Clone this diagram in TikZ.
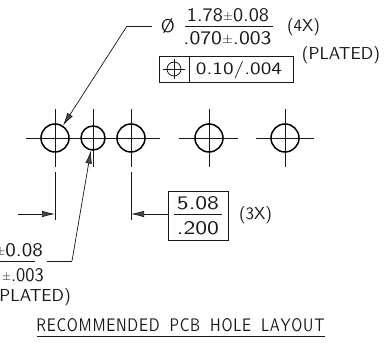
\documentclass[tikz,border=0pt]{standalone}
\usetikzlibrary{arrows.meta}
\usepackage{graphicx}
\definecolor{ink}{gray}{0.1}
\newcommand{\cad}[3]{\resizebox{#1pt}{#2pt}{\sffamily #3}}
\newcommand{\pmk}{\raisebox{0.4pt}{\scalebox{0.65}{±}}}
\tikzset{
  thinline/.style={draw=ink,line width=0.7pt},
  hole/.style={circle,draw=black,line width=1.5pt,inner sep=0pt,minimum size=28pt},
  smallhole/.style={hole,minimum size=24pt},
  lead/.style={thinline,-{Latex[length=13pt,width=6.5pt,fill=ink!80]}},
  txt/.style={inner sep=0pt,text=ink,anchor=center},
  txtr/.style={inner sep=0pt,text=ink,anchor=east},
  framebox/.style={thinline,inner sep=0pt}
}
\begin{document}
\begin{tikzpicture}[x=1pt,y=-1pt]
\useasboundingbox (0,0) rectangle (392,344);
\clip (0,0) rectangle (392,344);
% centre lines
\foreach \x in {55,93,131,209,285}{\draw[thinline] (\x,109) -- (\x,167);}
\draw[thinline] (26,138) -- (160,138);
\draw[thinline] (179,138) -- (238,138);
\draw[thinline] (256,138) -- (314,138);
% holes
\node[hole] (h1) at (55,138) {};
\node[smallhole] (h2) at (93,138) {};
\node[hole] (h3) at (131,138) {};
\node[hole] (h4) at (209,138) {};
\node[hole] (h5) at (285,138) {};
% top callout
\node[txt] (dia) at (168,26) {\cad{14}{14}{Ø}};
\node[txt] (t1) at (228,15) {\cad{82}{13}{1.78\pmk0.08}};
\node[txt] (t2) at (227.5,38) {\cad{88}{13}{.070\pmk.003}};
\coordinate (fr) at (185,26);
\coordinate (fe) at (273,26);
\draw[thinline] (fr) -- (fe);
\node[txt] (t4x) at (303.5,27) {\cad{33}{13}{(4X)}};
\node[txt] (tpl) at (341,55) {\cad{78}{13}{(PLATED)}};
\coordinate (ls) at (152,26);
\coordinate (le) at (127,26);
\draw[thinline] (ls) -- (le);
\draw[lead] (le) -- (h1);
% tolerance frame
\node[framebox,draw,minimum width=134pt,minimum height=26pt] (fc) at (226,69) {};
\coordinate (da) at (189,56);
\coordinate (db) at (189,82);
\draw[thinline] (da) -- (db);
\node[circle,draw=ink,line width=0.8pt,minimum size=14pt,inner sep=0pt] (gsym) at (174,69) {};
\draw[thinline] (163,69) -- (185,69);
\draw[thinline] (174,59) -- (174,79);
\node[txt] (tol) at (239,70) {\cad{86}{13}{0.10/.004}};
% lower-left callout
\coordinate (a1) at (47,261);
\coordinate (a2) at (72,261);
\draw[thinline] (a1) -- (a2);
\draw[lead] (a2) -- (h2);
\coordinate (b1) at (0,261);
\coordinate (b2) at (35,261);
\draw[thinline] (b1) -- (b2);
\node[txtr] (l1) at (43,250) {\cad{48}{13}{\pmk0.08}};
\node[txtr] (l2) at (44,275) {\cad{42}{13}{\pmk.003}};
\node[txtr] (l3) at (71,297) {\cad{78}{13}{(PLATED)}};
% dimension
\coordinate (e1a) at (55,172);
\coordinate (e1b) at (55,220);
\coordinate (e2a) at (131,172);
\coordinate (e2b) at (131,220);
\draw[thinline] (e1a) -- (e1b);
\draw[thinline] (e2a) -- (e2b);
\node[framebox,draw,minimum width=60pt,minimum height=49pt] (dimb) at (198,215.5) {};
\coordinate (d1) at (18,214);
\coordinate (d1e) at (55,214);
\coordinate (d2e) at (131,214);
\draw[lead] (d1) -- (d1e);
\draw[lead] (dimb.west |- d2e) -- (d2e);
\coordinate (m1) at (174,214);
\coordinate (m2) at (222,214);
\draw[thinline] (m1) -- (m2);
\node[txt] (v1) at (198,203) {\cad{42}{13}{5.08}};
\node[txt] (v2) at (198,228) {\cad{42}{13}{.200}};
\node[txt] (t3x) at (255.5,215) {\cad{33}{13}{(3X)}};
% title
\node[txt] (title) at (180.5,325) {\cad{288}{13}{R\kern.5pt E\kern.5pt C\kern.5pt O\kern.5pt M\kern.5pt M\kern.5pt E\kern.5pt N\kern.5pt D\kern.5pt E\kern.5pt D\ \ P\kern.5pt C\kern.5pt B\ \ H\kern.5pt O\kern.5pt L\kern.5pt E\ \ L\kern.5pt A\kern.5pt Y\kern.5pt O\kern.5pt U\kern.5pt T}};
\coordinate (u1) at (37,336);
\coordinate (u2) at (325,336);
\draw[thinline] (u1) -- (u2);
\end{tikzpicture}
\end{document}
